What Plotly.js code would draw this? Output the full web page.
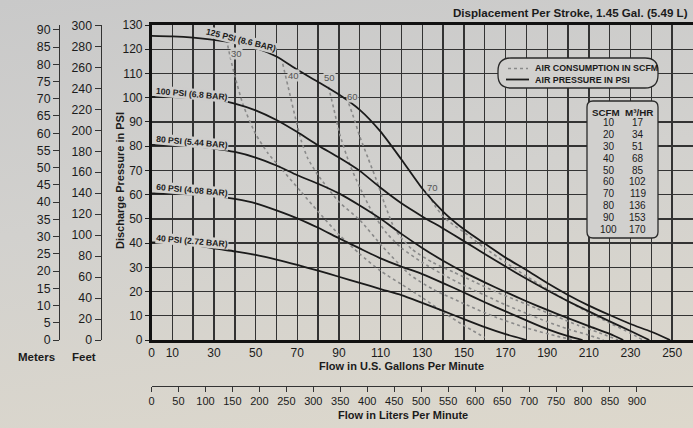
<!DOCTYPE html>
<html><head><meta charset="utf-8">
<script src="https://cdn.plot.ly/plotly-3.0.1.min.js"></script>
<style>
html,body{margin:0;padding:0;}
body{width:693px;height:428px;overflow:hidden;background:linear-gradient(172deg,#c9c9c9 0%,#d2d1ce 45%,#ddd8cc 100%);}
#chart{width:693px;height:428px;}
</style></head><body><div id="chart"></div><script>
// ---- data ----
const gpm125 = [0,10,20,30,40,50,60,70,80,90,100,110,120,130,140,150,160,170,180,190,200,210,220,230,240,249];
const psi125 = [125.5,125.3,124.8,123.9,122.7,120.6,117,111.5,106.5,101.3,95,86,74.5,62.5,53,45.7,39.8,34,28.9,23.5,18.6,14.2,10.3,6.6,3.4,0];
const gpm100 = [0,10,20,30,40,50,60,70,80,90,100,110,120,130,140,150,160,170,180,190,200,210,220,230,239];
const psi100 = [100.3,100.2,100,99.4,97.6,94.8,90.8,85.8,80.3,75.3,69.8,62.8,56.4,51,46,40.8,35.5,30.3,25.3,20.5,16,11.8,7.7,3.7,0];
const gpm80 = [0,10,20,30,40,50,60,70,80,90,100,110,120,130,140,150,160,170,180,190,200,210,220,226.5];
const psi80 = [80.5,80.4,80,79,77.6,75.3,72,68,64.5,60.5,55.5,50,43.8,38,32.7,28,23.8,19.8,16,12.4,9,5.7,2.5,0];
const gpm60 = [0,10,20,30,40,50,60,70,80,90,100,110,120,130,140,150,160,170,180,190,200,207];
const psi60 = [60.5,60.4,60.1,59.6,58.2,56.4,53.5,50.2,46.3,42,37.8,33.7,30.3,27.2,23.5,19.6,15.6,11.8,8.1,4.5,1.6,0];
const gpm40 = [0,10,20,30,40,50,60,70,80,90,100,110,120,130,140,150,160,170,180];
const psi40 = [40.3,40.2,39.4,37.8,36.6,35.1,33.2,31,28.6,26.1,23.6,21,18.5,15.3,12,8.6,5.3,2.4,0];

const gpmS30 = [36,38,40,44,50,56,63,72,80,90,100,110,120,130,140,150,160];
const psiS30 = [124,116,109,97,85,77,70,61,53,43.5,35.5,28.5,23,17.5,11.5,6,1];
const gpmS40 = [63,66,69,72,75,80,90,100,111,124,135,150,165,180,195,203];
const psiS40 = [114,103,92,82,75,68,57,49.5,38.5,27,21,15,9.5,5,1.5,0];
const gpmS50 = [85,87.5,90.5,95.3,100,106.5,113,120,130,140,150,160,170,180,190,200,210,217];
const psiS50 = [104.5,95.5,84.6,72.2,63,52,44,38,32,27,22.5,18.5,14.5,11,7.5,4.5,2,0];
const gpmS60 = [93.7,97,100,104,108,112,117,125,135,145,155,165,175,185,195,205,215,224];
const psiS60 = [100,92,84,75,66,56,45.5,37.5,32,28,24,20,16.5,13,9.5,6,3,0];
const gpmS70 = [133,136,140,145,150,160,170,180,190,200,210,220,230,236];
const psiS70 = [60,55.5,51,47.5,44.5,38,32,26.3,21,16,11.3,7,2.8,0];

const pressureLabels = ["125 PSI (8.6 BAR)","100 PSI (6.8 BAR)","80 PSI (5.44 BAR)","60 PSI (4.08 BAR)","40 PSI (2.72 BAR)"];
const scfmCurveLabels = ["30","40","50","60","70"];

const gpmTickVals = [0,10,20,30,40,50,60,70,80,90,100,110,120,130,140,150,160,170,180,190,200,210,220,230,240,250,260];
const gpmTickText = ["0","10","","30","","50","","70","","90","","110","","130","","150","","170","","190","","210","","230","","250",""];
const lpmTickVals = [0,50,100,150,200,250,300,350,400,450,500,550,600,650,700,750,800,850,900];
const meterTickVals = [0,5,10,15,20,25,30,35,40,45,50,55,60,65,70,75,80,85,90];
const feetTickVals = [0,20,40,60,80,100,120,140,160,180,200,220,240,260,280,300];

const tableSCFM = [10,20,30,40,50,60,70,80,90,100];
const tableM3HR = [17,34,51,68,85,102,119,136,153,170];

// ---- layout helpers ----
const W = 693, H = 428;
const fx = p => p / W;
const fy = p => 1 - p / H;
const NARROW = "'Liberation Sans Narrow','Arial Narrow','Liberation Sans',Arial,sans-serif";
const REG = "'Liberation Sans',Arial,sans-serif";
const INK = '#1b1b1b';

function rrect(x0, y0, x1, y1, r) {
  const P = (x, y) => fx(x) + ',' + fy(y);
  return 'M' + P(x0 + r, y0) + ' L' + P(x1 - r, y0) + ' Q' + P(x1, y0) + ' ' + P(x1, y0 + r) +
    ' L' + P(x1, y1 - r) + ' Q' + P(x1, y1) + ' ' + P(x1 - r, y1) +
    ' L' + P(x0 + r, y1) + ' Q' + P(x0, y1) + ' ' + P(x0, y1 - r) +
    ' L' + P(x0, y0 + r) + ' Q' + P(x0, y0) + ' ' + P(x0 + r, y0) + ' Z';
}

const solid = (x, y) => ({x, y, type: 'scatter', mode: 'lines', line: {color: INK, width: 1.8, shape: 'spline', smoothing: 0.6}, hoverinfo: 'skip', showlegend: false});
const dotted = (x, y) => ({x, y, type: 'scatter', mode: 'lines', line: {color: '#8a8a8a', width: 1.6, dash: 'dot', shape: 'spline', smoothing: 0.6}, hoverinfo: 'skip', showlegend: false});

const traces = [
  dotted(gpmS30, psiS30), dotted(gpmS40, psiS40), dotted(gpmS50, psiS50), dotted(gpmS60, psiS60), dotted(gpmS70, psiS70),
  solid(gpm125, psi125), solid(gpm100, psi100), solid(gpm80, psi80), solid(gpm60, psi60), solid(gpm40, psi40),
  {x: [], y: [], xaxis: 'x', yaxis: 'y2', type: 'scatter', showlegend: false},
  {x: [], y: [], xaxis: 'x', yaxis: 'y3', type: 'scatter', showlegend: false},
  {x: [], y: [], xaxis: 'x2', yaxis: 'y', type: 'scatter', showlegend: false}
];

const ann = [];
function txt(text, x, y, size, opts, bold, family) {
  ann.push(Object.assign({text, x: fx(x), y: fy(y), xref: 'paper', yref: 'paper', showarrow: false,
    font: {family: family || NARROW, size, color: INK, weight: bold ? 700 : 400}, xanchor: 'center', yanchor: 'middle'}, opts || {}));
}

txt('Displacement Per Stroke, 1.45 Gal. (5.49 L)', 690, 12, 11.6, {xanchor: 'right'}, true);
txt('Discharge Pressure in PSI', 120, 181, 11, {textangle: -90}, true);
txt('Flow in U.S. Gallons Per Minute', 401, 366, 11, {}, true);
txt('Flow in Liters Per Minute', 403, 415, 11, {}, true);
txt('Meters', 36, 357, 11.5, {}, true);
txt('Feet', 84, 357, 11.5, {}, true);

// pressure curve labels (sit on their curves, knocking the line out)
const plPos = [[241, 40.5, 14, '#cbcbca'], [192, 93.5, 5, '#cdcccb'], [192, 142, 5, '#cfcecc'], [192, 190.5, 5, '#d1d0cd'], [192, 241, 5, '#d3d1cd']];
pressureLabels.forEach((t, i) => txt(t, plPos[i][0], plPos[i][1], 8.6, {textangle: plPos[i][2], bgcolor: plPos[i][3], borderpad: 0}, true));
// scfm labels
const slPos = [[236, 53], [293, 75], [329, 78], [352, 96], [432, 187]];
scfmCurveLabels.forEach((t, i) => txt(t, slPos[i][0], slPos[i][1], 9.5, {font: {family: NARROW, size: 9.5, color: '#555'}, bgcolor: 'rgba(206,205,203,0.95)', borderpad: 0}));

// legend
txt('AIR CONSUMPTION IN SCFM', 533, 68, 8.9, {xanchor: 'left'}, true);
txt('AIR PRESSURE IN PSI', 533, 79.5, 8.9, {xanchor: 'left'}, true);
// table
txt('SCFM', 606, 112, 9.8, {}, true);
txt('M³/HR', 639, 112, 9.8, {}, true);
tableSCFM.forEach((v, i) => {
  txt(String(v), 608.5, 122.7 + i * 11.84, 10);
  txt(String(tableM3HR[i]), 637.5, 122.7 + i * 11.84, 10);
});

const shapes = [
  {type: 'path', xref: 'paper', yref: 'paper', path: rrect(498, 58, 658, 88, 13), fillcolor: '#d1d0ce', line: {color: '#2a2a2a', width: 1.3}, layer: 'above'},
  {type: 'path', xref: 'paper', yref: 'paper', path: rrect(587, 101, 658, 238, 6), fillcolor: '#d1d0ce', line: {color: '#2a2a2a', width: 1.3}, layer: 'above'},
  {type: 'line', xref: 'paper', yref: 'paper', x0: fx(508), x1: fx(528), y0: fy(68.5), y1: fy(68.5), line: {color: '#8a8a8a', width: 1.6, dash: 'dot'}, layer: 'above'},
  {type: 'line', xref: 'paper', yref: 'paper', x0: fx(506), x1: fx(529), y0: fy(79.5), y1: fy(79.5), line: {color: INK, width: 1.8}, layer: 'above'}
];

const yDom = [fy(340), fy(25)];
const tickFont = {family: NARROW, size: 12, color: INK};
const sideFont = {family: REG, size: 12.3, color: INK};

const layout = {
  width: W, height: H, autosize: false,
  margin: {l: 0, r: 0, t: 0, b: 0, pad: 0},
  paper_bgcolor: 'rgba(0,0,0,0)', plot_bgcolor: 'rgba(0,0,0,0)',
  showlegend: false,
  xaxis: {domain: [fx(151.5), 1], range: [0, 260], tickmode: 'array', tickvals: gpmTickVals, ticktext: gpmTickText,
    showgrid: true, gridcolor: '#333', gridwidth: 1.4, zeroline: false, showline: true, linecolor: '#111', linewidth: 2.6, mirror: true,
    ticks: '', tickfont: tickFont, fixedrange: true},
  yaxis: {domain: yDom, range: [0, 130], dtick: 10, tick0: 0, showgrid: true, gridcolor: '#333', gridwidth: 1.4, zeroline: false,
    showline: true, linecolor: '#111', linewidth: 2.6, ticks: 'outside', ticklen: 4, tickcolor: '#222', tickfont: tickFont, fixedrange: true},
  yaxis2: {overlaying: 'y', anchor: 'free', position: fx(59), side: 'left', range: [0, 130 * 0.70307], tickmode: 'array', tickvals: meterTickVals,
    showgrid: false, zeroline: false, showline: true, linecolor: '#333', linewidth: 1, ticks: 'outside', ticklen: 6, tickcolor: '#333',
    tickfont: sideFont, fixedrange: true},
  yaxis3: {overlaying: 'y', anchor: 'free', position: fx(100.5), side: 'left', range: [0, 130 * 2.31], tickmode: 'array', tickvals: feetTickVals,
    showgrid: false, zeroline: false, showline: true, linecolor: '#333', linewidth: 1, ticks: 'outside', ticklen: 6, tickcolor: '#333',
    tickfont: sideFont, fixedrange: true},
  xaxis2: {overlaying: 'x', anchor: 'free', position: fy(386), side: 'bottom', range: [0, 1004], tickmode: 'array', tickvals: lpmTickVals,
    showgrid: false, zeroline: false, showline: true, linecolor: '#333', linewidth: 1.2, ticks: 'outside', ticklen: 5, tickcolor: '#333',
    tickfont: {family: NARROW, size: 11, color: INK}, fixedrange: true},
  annotations: ann,
  shapes: shapes
};

Plotly.newPlot('chart', traces, layout, {staticPlot: true, displayModeBar: false});
</script></body></html>
